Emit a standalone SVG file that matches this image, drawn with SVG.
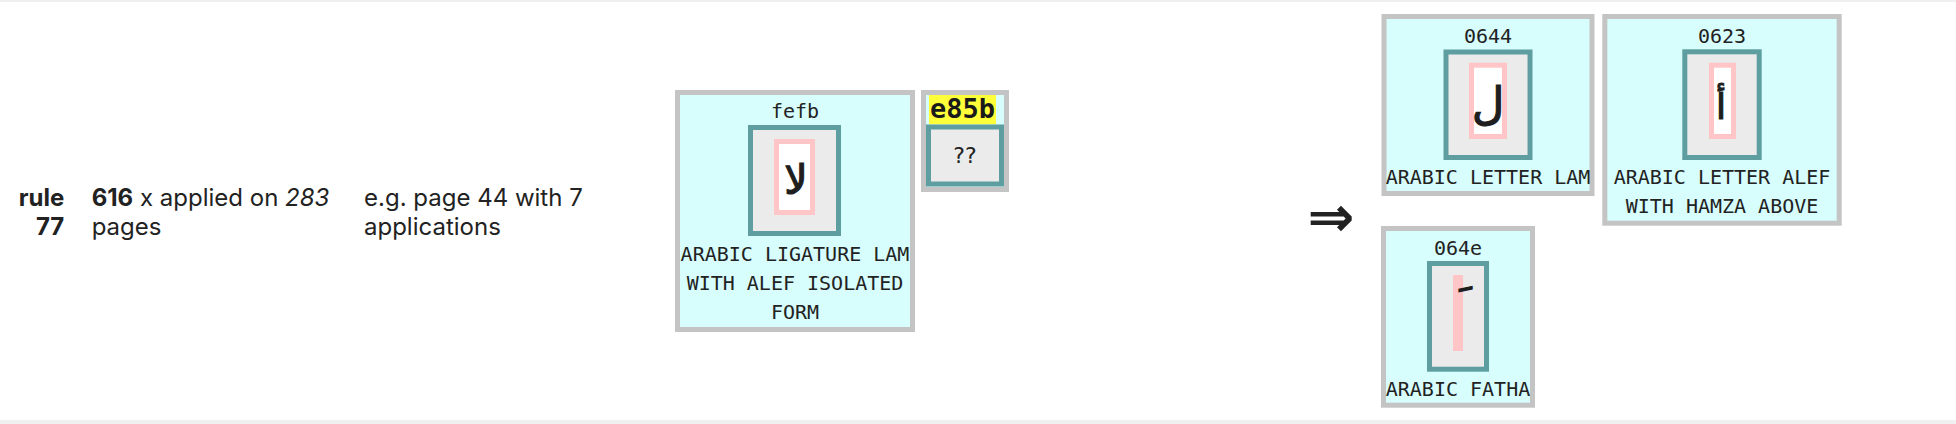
<svg xmlns="http://www.w3.org/2000/svg" width="1956" height="424" viewBox="0 0 1956 424">
<style>
.band{fill:#f0f0f0}
.outer{fill:#d7fdfd;stroke:#c4c4c4;stroke-width:5}
.teal{fill:#ebebeb;stroke:#5f9ea0;stroke-width:5}
.pink{fill:#ffffff;stroke:#ffc5c7;stroke-width:5}
.mono{font-family:"DejaVu Sans Mono",monospace;font-size:20px;fill:#222;text-anchor:middle}
.code{font-family:"DejaVu Sans Mono",monospace;font-size:20px;fill:#222;text-anchor:middle}
.hl{font-family:"DejaVu Sans Mono",monospace;font-size:27px;font-weight:bold;fill:#1a1a1a;text-anchor:middle}
.qq{font-family:"DejaVu Sans",sans-serif;font-size:22px;fill:#222;text-anchor:middle}
.glyph{font-family:"DejaVu Sans",sans-serif;fill:#1e1e1e;stroke:#1e1e1e;stroke-width:1.2;text-anchor:middle}
.info{font-family:Inter,"Liberation Sans",sans-serif;font-size:24px;fill:#222}
.arrow{font-family:"DejaVu Sans",sans-serif;font-size:56px;font-weight:bold;fill:#222;text-anchor:middle}
</style>
<rect class="band" x="0" y="0" width="1956" height="2"/>
<rect class="band" x="0" y="420" width="1956" height="4"/>
<g id="rule-info">
<text class="info" x="64.3" y="206" text-anchor="end" font-weight="bold">rule</text>
<text class="info" x="64.3" y="235" text-anchor="end" font-weight="bold">77</text>
<text class="info" x="91.7" y="206"><tspan font-weight="bold">616</tspan> x applied on <tspan font-style="italic">283</tspan></text>
<text class="info" x="91.7" y="235">pages</text>
<text class="info" x="364" y="206">e.g. page 44 with 7</text>
<text class="info" x="364" y="235">applications</text>
</g>
<g id="node-fefb">
<rect class="outer" x="677.5" y="92.5" width="235" height="237"/>
<text class="code" x="795" y="118">fefb</text>
<rect class="teal" x="750.5" y="127.5" width="88" height="106"/>
<rect class="pink" x="776.5" y="141.5" width="36" height="71"/>
<text class="glyph" x="796" y="194" style="font-size:41px">&#xFEFB;</text>
<text class="mono" x="795" y="261">ARABIC LIGATURE LAM</text>
<text class="mono" x="795" y="290">WITH ALEF ISOLATED</text>
<text class="mono" x="795" y="319">FORM</text>
</g>
<g id="node-e85b">
<rect class="outer" x="923.5" y="92.5" width="83" height="97"/>
<rect x="929" y="95" width="67" height="29.3" fill="#ffff3a"/>
<text class="hl" x="962.5" y="118">e85b</text>
<rect class="teal" x="928.5" y="127" width="73" height="57"/>
<text class="qq" x="965" y="163">??</text>
</g>
<g id="connectors">
<text class="arrow" x="1331" y="236">&#x21D2;</text>
</g>
<g id="node-0644">
<rect class="outer" x="1384" y="16.5" width="208" height="177"/>
<text class="code" x="1488" y="43">0644</text>
<rect class="teal" x="1446" y="52" width="84" height="105.5"/>
<rect class="pink" x="1471.5" y="65.2" width="33" height="71.3"/>
<text class="glyph" x="1488" y="119" style="font-size:45px">&#x0644;</text>
<text class="mono" x="1488" y="184">ARABIC LETTER LAM</text>
</g>
<g id="node-0623">
<rect class="outer" x="1604.8" y="16.5" width="234.4" height="206.7"/>
<text class="code" x="1722" y="43">0623</text>
<rect class="teal" x="1684.8" y="51.8" width="74.4" height="105.7"/>
<rect class="pink" x="1711.5" y="65.2" width="22" height="71.3"/>
<text class="glyph" x="1721" y="119.3" style="font-size:36px">&#x0623;</text>
<text class="mono" x="1722" y="184">ARABIC LETTER ALEF</text>
<text class="mono" x="1722" y="213">WITH HAMZA ABOVE</text>
</g>
<g id="node-064e">
<rect class="outer" x="1383.5" y="228.5" width="149" height="176.7"/>
<text class="code" x="1458" y="255">064e</text>
<rect class="teal" x="1429.5" y="263.5" width="57" height="105.7"/>
<rect x="1453" y="275" width="10" height="76" fill="#ffc5c7"/>
<text class="glyph" x="1454" y="319" style="font-size:46px">&#x064E;</text>
<text class="mono" x="1458" y="396">ARABIC FATHA</text>
</g>
</svg>
